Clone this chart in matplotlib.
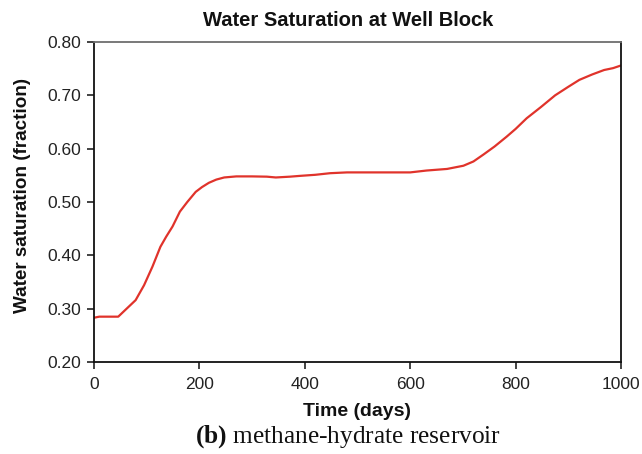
import matplotlib
matplotlib.use("Agg")
import matplotlib.pyplot as plt

# Water saturation history at the well block
days = [0, 10, 46, 63, 79, 95, 111, 126, 137, 149, 163, 177, 193, 205, 218,
        232, 247, 270, 300, 328, 345, 372, 391, 420, 448, 480, 540, 600, 631, 670,
        701, 720, 739, 760, 783, 800, 821, 848, 875, 900, 921, 945, 968, 985, 1000]
sw = [0.283, 0.285, 0.285, 0.301, 0.316, 0.344, 0.379, 0.416, 0.435, 0.454,
      0.482, 0.500, 0.519, 0.528, 0.536, 0.542, 0.546, 0.548, 0.548, 0.5475, 0.546,
      0.5475, 0.549, 0.551, 0.554, 0.5555, 0.5555, 0.5555, 0.559, 0.562,
      0.568, 0.576, 0.589, 0.604, 0.6225, 0.637, 0.657, 0.678, 0.700, 0.716,
      0.729, 0.739, 0.7475, 0.751, 0.756]

x_ticks = [0, 200, 400, 600, 800, 1000]
y_ticks = [0.20, 0.30, 0.40, 0.50, 0.60, 0.70, 0.80]

plt.rcParams['font.family'] = ['Liberation Sans', 'DejaVu Sans']
plt.rcParams['mathtext.fontset'] = 'custom'
plt.rcParams['mathtext.rm'] = 'Liberation Serif'
plt.rcParams['mathtext.bf'] = 'Liberation Serif:bold'

fig = plt.figure(figsize=(6.42, 4.54), dpi=100)
ax = fig.add_axes([94/642, 1 - 362/454, 527/642, 320/454])

ax.plot(days, sw, color='#e0332b', linewidth=1.6)

ax.set_xlim(0, 1000)
ax.set_ylim(0.20, 0.80)
ax.set_xticks(x_ticks)
ax.set_yticks(y_ticks)
ax.set_yticklabels([f"{v:.2f}" for v in y_ticks])
ax.tick_params(axis='both', direction='out', length=5, width=1.2,
               labelsize=12.5, colors='#222222', pad=4)
ax.tick_params(axis='x', pad=6)

for side in ['left', 'bottom', 'right']:
    ax.spines[side].set_color('#111111')
    ax.spines[side].set_linewidth(1.3)
ax.spines['top'].set_color('#6e6e6e')
ax.spines['top'].set_linewidth(1.3)

fig.text(357/642, 1 - 411/454, 'Time (days)', ha='center', va='center',
         fontsize=14, fontweight='bold', color='#111111')
fig.text(23/642, 1 - 195/454, 'Water saturation (fraction)', ha='center', va='center',
         rotation=90, fontsize=13.6, fontweight='bold', color='#111111')

fig.text(348/642, 1 - 20/454, 'Water Saturation at Well Block', ha='center', va='center',
         fontsize=14.5, fontweight='bold', color='#111111')

fig.text(0.5 * (195 + 502) / 642, 1 - 437/454, r'$\mathbf{(b)}$ methane-hydrate reservoir',
         ha='center', va='center', fontsize=18.3, family='Liberation Serif', color='#111111')

fig.savefig('out.png', dpi=100)
